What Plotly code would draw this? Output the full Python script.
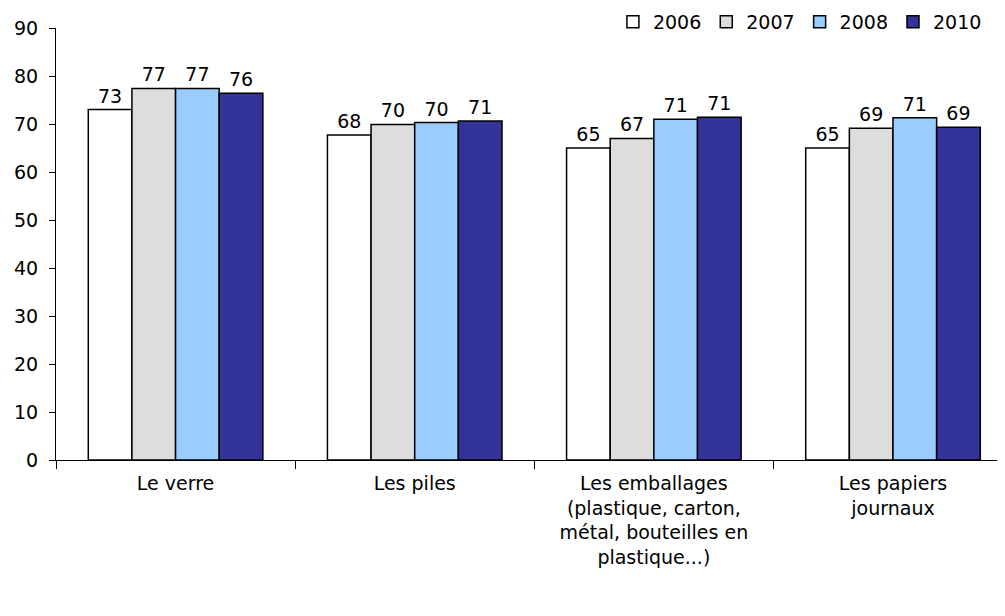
import plotly.graph_objects as go

categories = [
    "Le verre",
    "Les piles",
    "Les emballages<br>(plastique, carton,<br>métal, bouteilles en<br>plastique...)",
    "Les papiers<br>journaux",
]
years = ["2006", "2007", "2008", "2010"]
values_2006 = [73.0, 67.7, 65.0, 65.0]
values_2007 = [77.4, 69.9, 67.0, 69.1]
values_2008 = [77.4, 70.3, 71.0, 71.3]
values_2010 = [76.4, 70.6, 71.4, 69.3]
colors = ["#FFFFFF", "#DDDDDD", "#99CCFF", "#333399"]

FONT = "DejaVu Sans"

fig = go.Figure()
for year, vals, col in zip(years, [values_2006, values_2007, values_2008, values_2010], colors):
    fig.add_trace(
        go.Bar(
            name=year,
            x=categories,
            y=vals,
            marker={"color": col, "line": {"color": "#000000", "width": 1.5}},
            texttemplate="%{y:.0f}",
            textposition="outside",
            textfont={"size": 19, "color": "#000000", "family": FONT},
            cliponaxis=False,
        )
    )

fig.update_layout(
    width=1005,
    height=616,
    barmode="group",
    bargap=0.27,
    bargroupgap=0,
    paper_bgcolor="#FFFFFF",
    plot_bgcolor="#FFFFFF",
    font={"family": FONT, "size": 19, "color": "#000000"},
    margin={"l": 48, "r": 10, "t": 20, "b": 164, "autoexpand": False},
    legend={
        "orientation": "h",
        "x": 0.983,
        "xanchor": "right",
        "y": 1.014,
        "yanchor": "middle",
        "font": {"size": 19, "family": FONT},
        "itemwidth": 30,
        "traceorder": "normal",
        "bgcolor": "rgba(0,0,0,0)",
    },
    showlegend=True,
)
fig.update_xaxes(
    range=[-0.5, 3.46],
    showline=True,
    linecolor="#000000",
    linewidth=1,
    ticks="outside",
    tickson="boundaries",
    ticklen=8,
    tickcolor="#000000",
    ticklabelstandoff=6,
    showgrid=False,
    tickfont={"size": 19},
)
fig.update_yaxes(
    range=[0, 90],
    dtick=10,
    showline=True,
    linecolor="#000000",
    linewidth=1,
    ticks="outside",
    ticklen=6,
    tickcolor="#000000",
    ticklabelstandoff=7,
    showgrid=False,
    zeroline=False,
    tickfont={"size": 19},
)

fig.write_html("out.html")
